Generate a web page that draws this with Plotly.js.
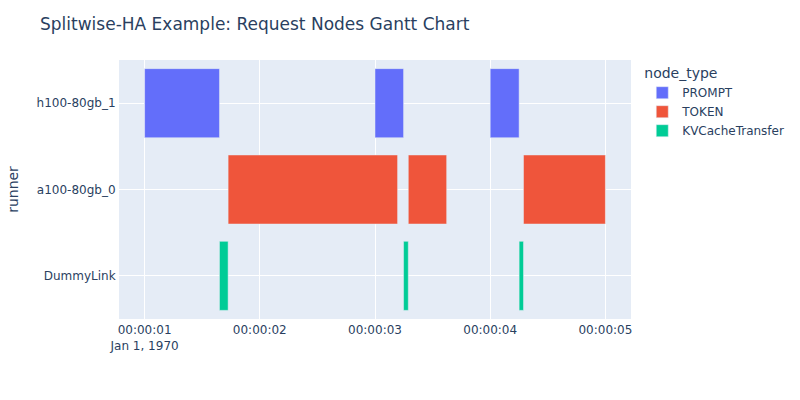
<!DOCTYPE html>
<html>
<head>
<meta charset="utf-8">
<script src="https://cdn.plot.ly/plotly-3.0.1.min.js"></script>
<style>html,body{margin:0;padding:0;background:#fff;}#chart{width:800px;height:400px;}</style>
</head>
<body>
<div id="chart"></div>
<script>
// Task data (seconds after epoch)
const nodeTypes = ["PROMPT", "TOKEN", "KVCacheTransfer"];
const runners = ["h100-80gb_1", "a100-80gb_0", "DummyLink", "h100-80gb_1", "DummyLink", "a100-80gb_0", "h100-80gb_1", "DummyLink", "a100-80gb_0"];
const taskTypes = ["PROMPT", "TOKEN", "KVCacheTransfer", "PROMPT", "KVCacheTransfer", "TOKEN", "PROMPT", "KVCacheTransfer", "TOKEN"];
const startSec = [1.000, 1.725, 1.650, 3.000, 3.248, 3.289, 4.000, 4.251, 4.289];
const finishSec = [1.650, 3.196, 1.725, 3.248, 3.289, 3.622, 4.251, 4.289, 5.000];
const categoryOrder = ["DummyLink", "a100-80gb_0", "h100-80gb_1"];
const colors = {"PROMPT": "#636efa", "TOKEN": "#EF553B", "KVCacheTransfer": "#00cc96"};

function pad(n, w) { return String(n).padStart(w, "0"); }
function toDate(sec) {
  const ms = Math.round(sec * 1000);
  const s = Math.floor(ms / 1000), rem = ms % 1000;
  const h = Math.floor(s / 3600), m = Math.floor((s % 3600) / 60), ss = s % 60;
  return "1970-01-01 " + pad(h, 2) + ":" + pad(m, 2) + ":" + pad(ss, 2) + "." + pad(rem, 3);
}

const traces = nodeTypes.map(nt => {
  const idx = taskTypes.map((t, i) => t === nt ? i : -1).filter(i => i >= 0);
  return {
    type: "bar",
    orientation: "h",
    name: nt,
    legendgroup: nt,
    showlegend: true,
    y: idx.map(i => runners[i]),
    base: idx.map(i => toDate(startSec[i])),
    x: idx.map(i => Math.round((finishSec[i] - startSec[i]) * 1000)),
    marker: {color: colors[nt], line: {color: "#E5ECF6", width: 0.5}},
    alignmentgroup: "True",
    offsetgroup: ""
  };
});

const layout = {
  width: 800, height: 400,
  title: {text: "Splitwise-HA Example: Request Nodes Gantt Chart", x: 0.05, font: {size: 17, color: "#2a3f5f"}},
  font: {family: '"DejaVu Sans", verdana, arial, sans-serif', size: 12, color: "#2a3f5f"},
  paper_bgcolor: "#fff",
  plot_bgcolor: "#E5ECF6",
  margin: {t: 60, l: 119, r: 168, b: 81},
  barmode: "overlay",
  legend: {title: {text: "node_type"}, tracegroupgap: 0},
  xaxis: {type: "date", gridcolor: "white", linecolor: "white", zerolinecolor: "white", automargin: false},
  yaxis: {title: {text: "runner", standoff: 14}, type: "category", categoryorder: "array", categoryarray: categoryOrder,
          gridcolor: "white", linecolor: "white", automargin: false}
};

Plotly.newPlot("chart", traces, layout, {displayModeBar: false});
</script>
</body>
</html>
